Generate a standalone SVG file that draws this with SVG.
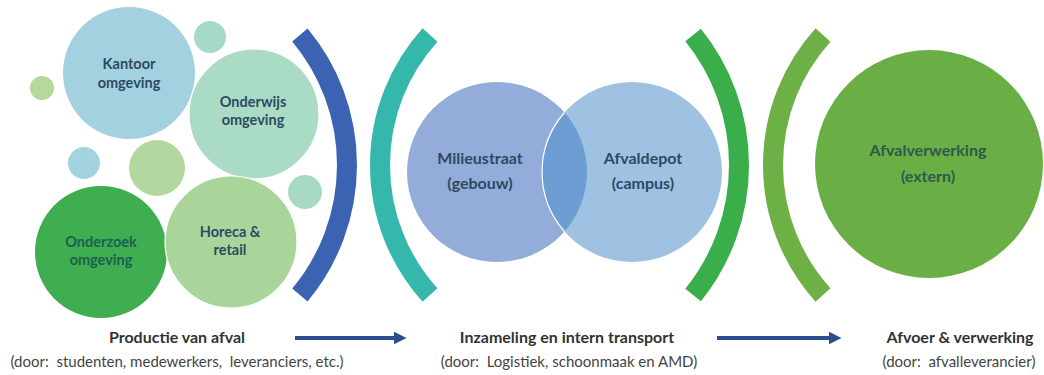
<svg xmlns="http://www.w3.org/2000/svg" width="1044" height="375" viewBox="0 0 1044 375">
  <defs>
    <style>
      .lbl { font-family: Lato, "Open Sans", "Liberation Sans", sans-serif; font-weight: 700; text-anchor: middle; fill: #2e4a62; }
      .c14 { font-size: 14.5px; }
      .c15 { font-size: 16px; }
      .stage { font-family: Lato, "Open Sans", "Liberation Sans", sans-serif; font-weight: 700; font-size: 16px; text-anchor: middle; fill: #333333; }
      .who { font-family: Lato, "Open Sans", "Liberation Sans", sans-serif; font-size: 15px; text-anchor: middle; fill: #444444; white-space: pre; }
      .bracket { fill: none; stroke-width: 20; stroke-linecap: butt; }
      .flow { stroke: #2b4f8c; stroke-width: 4; fill: none; }
      .edge { stroke: #ffffff; stroke-width: 1.2; }
    </style>
    <marker id="head" viewBox="0 0 10 10" refX="1" refY="5" markerWidth="3.2" markerHeight="3.2" orient="auto" markerUnits="strokeWidth">
      <path d="M0,0 L10,5 L0,10 Z" fill="#2b4f8c"/>
    </marker>
  </defs>

  <!-- Stage 1: sources of waste -->
  <g id="decor-bubbles">
    <circle cx="210" cy="37" r="16" fill="#a6d9c9"/>
    <circle cx="42" cy="88" r="12" fill="#b7d79c"/>
    <circle cx="84" cy="163" r="16" fill="#a3d3de"/>
    <circle cx="157" cy="168" r="28" fill="#b2d8a0"/>
    <circle cx="305" cy="192" r="17" fill="#a8d9c3"/>
  </g>
  <g id="node-kantoor">
    <circle cx="129" cy="73" r="66" fill="#a3d1e0"/>
    <text class="lbl c14" x="129" y="69">Kantoor</text>
    <text class="lbl c14" x="129" y="88">omgeving</text>
  </g>
  <g id="node-onderwijs">
    <circle class="edge" cx="254" cy="114" r="65" fill="#a9dbc5"/>
    <text class="lbl c14" x="253" y="107">Onderwijs</text>
    <text class="lbl c14" x="253" y="125">omgeving</text>
  </g>
  <g id="node-onderzoek">
    <circle cx="101" cy="252" r="66" fill="#3fae50"/>
    <text class="lbl c14" x="101" y="247" style="fill:#1d6050">Onderzoek</text>
    <text class="lbl c14" x="101" y="265" style="fill:#1d6050">omgeving</text>
  </g>
  <g id="node-horeca">
    <circle class="edge" cx="231" cy="242" r="66" fill="#a9d59b"/>
    <text class="lbl c14" x="230" y="237">Horeca &amp;</text>
    <text class="lbl c14" x="230" y="255">retail</text>
  </g>

  <!-- Stage 2: collection -->
  <g id="node-milieustraat">
    <circle cx="497" cy="172" r="90" fill="#93acd9"/>
    <text class="lbl c15" x="480" y="164">Milieustraat</text>
    <text class="lbl c15" x="480" y="189">(gebouw)</text>
  </g>
  <g id="node-afvaldepot">
    <circle cx="632" cy="172" r="90" fill="#9fc2e2"/>
    <path d="M564.5,112.5 A90,90 0 0 0 564.5,231.5 A90,90 0 0 0 564.5,112.5 Z" fill="#6d9ed3"/>
    <path d="M564.5,112.5 A90,90 0 0 0 564.5,231.5" fill="none" stroke="#ffffff" stroke-width="1.2"/>
    <text class="lbl c15" x="643" y="164">Afvaldepot</text>
    <text class="lbl c15" x="643" y="189">(campus)</text>
  </g>

  <!-- Stage 3: external processing -->
  <g id="node-afvalverwerking">
    <circle cx="929" cy="164" r="114" fill="#6aae46"/>
    <text class="lbl c15" x="928" y="156" style="fill:#2f5a4c">Afvalverwerking</text>
    <text class="lbl c15" x="928" y="182" style="fill:#2f5a4c">(extern)</text>
  </g>

  <!-- Stage separators and flow arrows -->
  <g id="connectors">
    <path class="bracket" d="M299.9,35 A203,203 0 0 1 299.9,295" stroke="#3b63b2"/>
    <path class="bracket" d="M430,35 A194,194 0 0 0 430,295" stroke="#35b8ab"/>
    <path class="bracket" d="M693.1,35 A207,207 0 0 1 693.1,295" stroke="#3aae4b"/>
    <path class="bracket" d="M823,35 A194,194 0 0 0 823,295" stroke="#6db046"/>
    <line class="flow" x1="295" y1="338" x2="395" y2="338" marker-end="url(#head)"/>
    <line class="flow" x1="717" y1="338" x2="830" y2="338" marker-end="url(#head)"/>
  </g>

  <!-- Stage captions -->
  <g id="captions">
    <text class="stage" x="177" y="343">Productie van afval</text>
    <text class="who" x="177" y="367">(door:  studenten, medewerkers,  leveranciers, etc.)</text>
    <text class="stage" x="567" y="343">Inzameling en intern transport</text>
    <text class="who" x="569" y="367">(door:  Logistiek, schoonmaak en AMD)</text>
    <text class="stage" x="960" y="343">Afvoer &amp; verwerking</text>
    <text class="who" x="959" y="367">(door:  afvalleverancier)</text>
  </g>
</svg>
